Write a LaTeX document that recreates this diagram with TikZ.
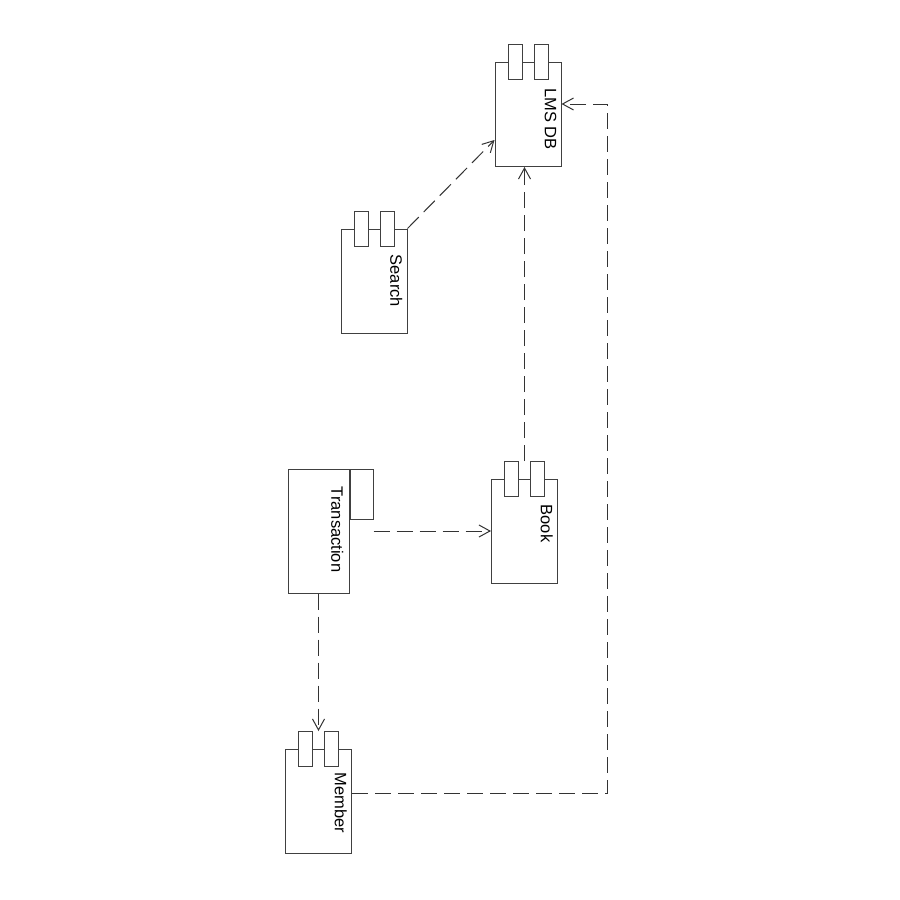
\documentclass[tikz,border=0pt]{standalone}
\usepackage{fontspec}
\setmainfont{Liberation Sans}
\usetikzlibrary{positioning, arrows.meta, calc}

\begin{document}
\begin{tikzpicture}[
        x=1pt, y=-1pt,
        component/.style={
          draw=black!75,
          line width=1pt,
          fill=white,
          inner sep=0pt,
          minimum width=66pt,
          minimum height=104pt
        },
        comptab/.style={
          draw=black!75,
          line width=1pt,
          fill=white,
          inner sep=0pt,
          minimum width=14pt,
          minimum height=35pt
        },
        compname/.style={
          rotate=-90,
          anchor=north west,
          inner sep=0pt,
          font=\fontsize{16.5}{18}\selectfont
        },
        depend/.style={
          draw=black!80,
          line width=1pt,
          dash pattern=on 16pt off 7pt,
          -{Straight Barb[length=11pt,width=12pt]}
        }
      ]
        \path[use as bounding box, fill=white] (0,0) rectangle (900,900);

        \node[component] (db) at (528,114.5) {};
        \node[component] (search) at (374,281) {};
        \node[component] (book) at (524.5,531) {};
        \node[component] (member) at (318.5,801) {};
        \node[component, minimum width=61pt, minimum height=124pt] (trans) at (318.5,531) {};
        \node[comptab, anchor=north west, minimum width=23pt, minimum height=50pt] (transtab) at (trans.north east) {};

        \node[comptab] (dbtabA) at ($(db.north)+(-13,0)$) {};
        \node[comptab] (dbtabB) at ($(db.north)+(13,0)$) {};
        \node[comptab] (searchtabA) at ($(search.north)+(-13,0)$) {};
        \node[comptab] (searchtabB) at ($(search.north)+(13,0)$) {};
        \node[comptab] (booktabA) at ($(book.north)+(-13,0)$) {};
        \node[comptab] (booktabB) at ($(book.north)+(13,0)$) {};
        \node[comptab] (membertabA) at ($(member.north)+(-13,0)$) {};
        \node[comptab] (membertabB) at ($(member.north)+(13,0)$) {};

        \node[compname] (dblabel) at ($(db.north east)+(-5,26)$) {LMS DB};
        \node[compname] (searchlabel) at ($(search.north east)+(-5,26)$) {Search};
        \node[compname] (booklabel) at ($(book.north east)+(-5,26)$) {Book};
        \node[compname] (memberlabel) at ($(member.north east)+(-5,24)$) {Member};
        \node[compname] (translabel) at ($(trans.north east)+(-6,18)$) {Transaction};

        \coordinate (booktop) at ($(book.north)+(0,-17.5)$);
        \coordinate (membertop) at ($(member.north)+(0,-17.5)$);
        \coordinate (memberout) at ($(member.east)+(0,-8)$);
        \coordinate (dbin) at ($(db.east)+(0,-10.5)$);
        \coordinate (turn) at ($(dbin)+(46,0)$);

        \draw[depend] (search.north east) -- ($(db.west)+(0,25.5)$);
        \draw[depend] (booktop) -- (booktop |- db.south);
        \draw[depend] (trans.east -| transtab.east) -- (book.west);
        \draw[depend] (trans.south) -- (membertop);
        \draw[depend] (memberout) -| (turn) -- (dbin);
      \end{tikzpicture}
\end{document}
